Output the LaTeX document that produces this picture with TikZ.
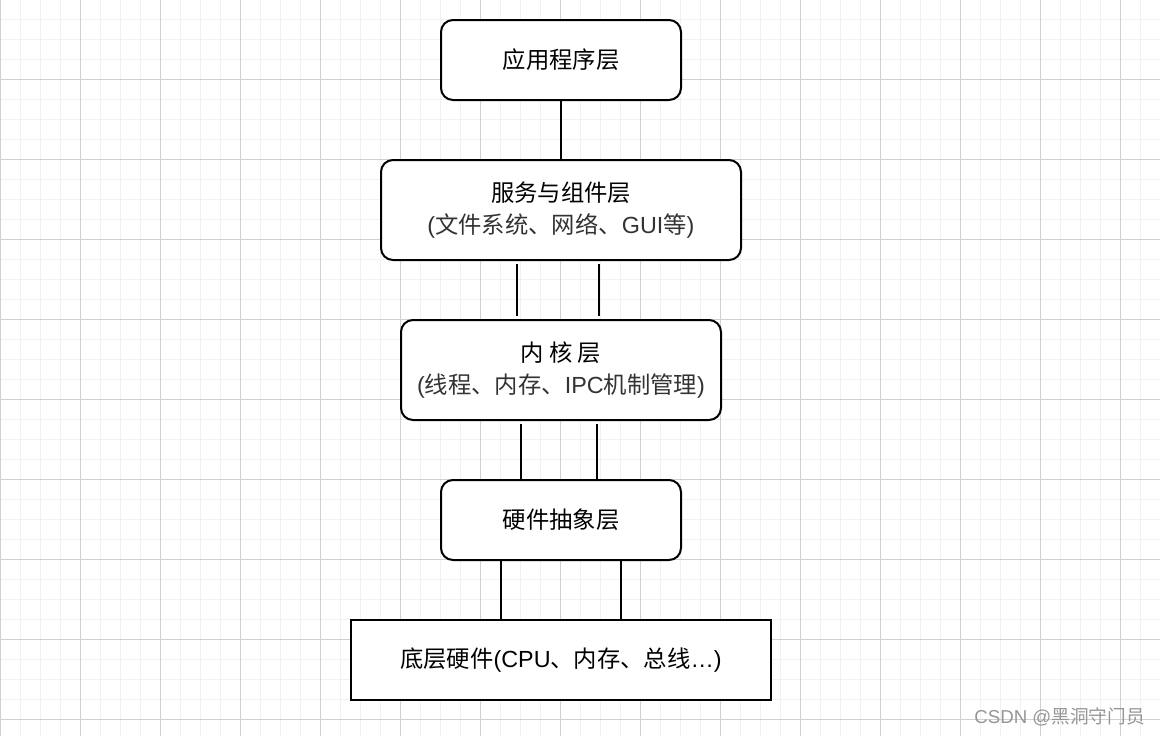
\documentclass[tikz,border=0pt]{standalone}
\usepackage{fontspec}
\setmainfont{Liberation Sans}
\newfontfamily\cjk{Noto Sans CJK SC}
\usetikzlibrary{calc}
\definecolor{minorgrid}{RGB}{241,241,241}
\definecolor{majorgrid}{RGB}{208,208,208}
\definecolor{subtext}{RGB}{51,51,51}
\definecolor{wmark}{RGB}{150,150,150}
\tikzset{
  layer/.style={draw=black, line width=1.5pt, fill=white, rounded corners=9pt,
    inner sep=0pt, outer sep=0pt, align=center, text=black,
    font=\fontsize{17.5}{24}\selectfont},
  flatlayer/.style={layer, rounded corners=0pt},
  link/.style={draw=black, line width=1.5pt},
  minorline/.style={draw=minorgrid, line width=1.3pt},
  majorline/.style={draw=majorgrid, line width=0.75pt},
}
\begin{document}
\begin{tikzpicture}[x=0.75pt, y=-0.75pt]
\useasboundingbox (0,0) rectangle (1160,736);
\fill[white] (0,0) rectangle (1160,736);
% grid
\foreach \i in {0,...,58} { \draw[minorline] (\i*20+0.5,0) -- (\i*20+0.5,736); }
\foreach \j in {1,...,37} { \draw[minorline] (0,\j*20-0.5) -- (1160,\j*20-0.5); }
\foreach \i in {0,...,14} { \draw[majorline] (\i*80+0.5,0) -- (\i*80+0.5,736); }
\foreach \j in {1,...,9} { \draw[majorline] (0,\j*80-0.5) -- (1160,\j*80-0.5); }
% layers
\node[layer, minimum width=180pt, minimum height=60pt] (app) at (561,60) {{\cjk 应用程序层}};
\node[layer, minimum width=270pt, minimum height=75pt] (svc) at (561,210)
  {{\cjk 服务与组件层}\\{\color{subtext}({\cjk 文件系统、网络、}GUI{\cjk 等})}};
\node[layer, minimum width=240pt, minimum height=75pt] (ker) at (561,370)
  {{\cjk 内 核 层}\\{\color{subtext}({\cjk 线程、内存、}IPC{\cjk 机制管理})}};
\node[layer, minimum width=180pt, minimum height=60pt] (hal) at (561,520) {{\cjk 硬件抽象层}};
\node[flatlayer, minimum width=315pt, minimum height=60pt] (hw) at (561,660)
  {{\cjk 底层硬件}(CPU{\cjk 、内存、总线}…)};
% connectors
\draw[link] (app.south) -- (svc.north);
\draw[link] ($(svc.south)+(-44,4)$) -- ($(ker.north)+(-44,-4)$);
\draw[link] ($(svc.south)+(38,4)$) -- ($(ker.north)+(38,-4)$);
\draw[link] ($(ker.south)+(-40,4)$) -- ($(hal.north)+(-40,0)$);
\draw[link] ($(ker.south)+(36,4)$) -- ($(hal.north)+(36,0)$);
\draw[link] ($(hal.south)+(-60,0)$) -- ($(hw.north)+(-60,0)$);
\draw[link] ($(hal.south)+(60,0)$) -- ($(hw.north)+(60,0)$);
% watermark
\node[anchor=east, text=wmark, inner sep=0pt, font=\fontsize{14}{16}\selectfont] (wm) at (1145,717) {CSDN @{\cjk 黑洞守门员}};
\end{tikzpicture}
\end{document}
